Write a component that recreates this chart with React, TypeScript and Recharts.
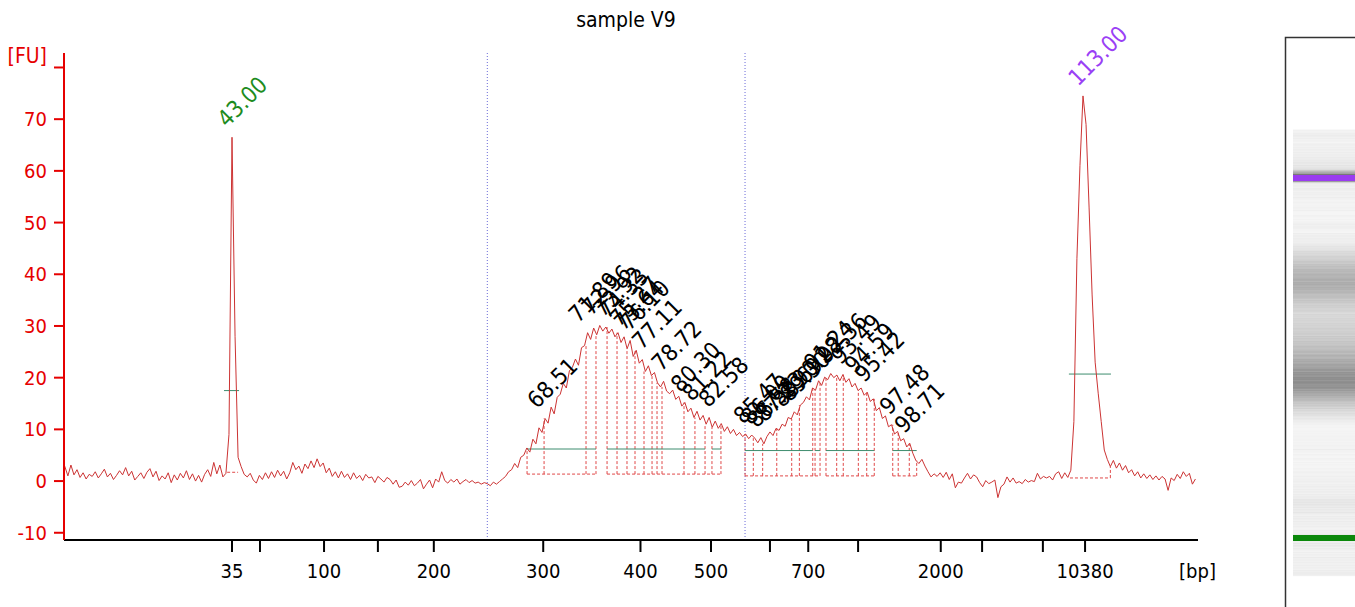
import { ComposedChart, Line, XAxis, YAxis, ReferenceLine, ReferenceDot } from "recharts"

const chartTitle = "sample V9"

// migration time of the first sample [s] and sampling step [s]
const startTime = 29
const stepTime = 0.25

// fluorescence [FU], one row per second (4 samples per row), starting at 29 s
const fuRows: number[][] = [
  [2.1, 2.8, 1.0, 3.1], // 29
  [1.2, 2.2, 0.7, 1.6], // 30
  [0.4, 1.3, 0.9, 1.8],
  [0.6, 1.4, 2.3, 0.8],
  [1.5, 0.3, 1.1, 2.0],
  [1.2, 2.6, 1.0, 1.9],
  [0.2, 0.9, 1.6, 0.5], // 35
  [1.7, 2.4, 0.8, 1.9],
  [0.1, 1.0, 0.4, 1.6],
  [-0.3, 1.2, 0.2, 1.5],
  [0.6, 2.0, 0.3, 1.4],
  [0.0, 1.1, -0.2, 1.3], // 40
  [2.2, 0.9, 3.6, 1.4],
  [3.1, 0.8, 1.5, 9.0],
  [66.5, 28.0, 4.6, 2.8], // 43 lower marker
  [1.3, 0.8, 1.5, 0.2],
  [-0.4, 1.1, 0.3, 1.6], // 45
  [0.5, 1.8, 0.7, 2.1],
  [1.0, 1.9, 0.4, 1.6],
  [3.6, 2.2, 2.9, 1.5],
  [3.3, 2.4, 3.9, 2.6],
  [4.3, 2.8, 3.5, 1.6], // 50
  [2.5, 0.9, 1.8, 0.6],
  [1.9, 0.7, 1.4, 0.3],
  [1.6, 0.5, 1.1, 0.1],
  [1.3, 0.6, 0.8, -0.3],
  [0.9, 0.4, -0.2, 0.7], // 55
  [0.3, -0.6, 0.2, -1.2],
  [-1.0, -0.2, -0.8, 0.1],
  [-0.9, -0.4, 0.3, -1.5],
  [-0.6, 0.2, -1.3, 0.4],
  [-0.2, 1.8, 0.1, -0.4], // 60
  [0.3, -0.2, 0.4, -0.6],
  [-0.1, 0.3, -0.3, 0.1],
  [-0.4, -0.2, -0.6, -0.3],
  [-0.5, -0.9, -0.2, -0.6],
  [-0.1, 0.4, 0.9, 1.8], // 65
  [2.2, 3.4, 2.6, 4.6],
  [5.0, 6.4, 5.6, 8.1],
  [7.2, 10.3, 9.4, 12.1],
  [11.2, 14.3, 13.0, 16.2],
  [16.8, 18.9, 18.0, 21.3], // 70
  [22.0, 23.6, 22.4, 25.8],
  [26.2, 28.7, 27.4, 29.6],
  [28.3, 30.1, 29.0, 29.8],
  [28.6, 29.4, 27.9, 28.7],
  [26.8, 27.9, 25.6, 27.2], // 75
  [24.1, 25.3, 22.8, 23.5],
  [21.2, 22.3, 20.4, 21.0],
  [19.0, 18.2, 19.3, 17.4],
  [16.9, 17.6, 15.8, 16.4],
  [14.5, 15.2, 13.4, 14.1], // 80
  [12.3, 13.5, 11.8, 12.7],
  [11.0, 12.3, 10.4, 11.6],
  [10.2, 11.1, 9.6, 10.5],
  [9.2, 10.0, 8.8, 9.4],
  [8.6, 9.1, 8.2, 8.9], // 85
  [8.3, 7.4, 8.4, 7.2],
  [8.6, 9.5, 8.8, 10.2],
  [9.8, 11.0, 10.6, 12.3],
  [12.0, 13.4, 12.8, 14.7],
  [15.2, 16.3, 15.7, 18.0], // 90
  [17.6, 19.4, 18.5, 20.1],
  [19.6, 20.8, 20.0, 20.5],
  [19.4, 20.6, 19.1, 19.8],
  [18.2, 18.9, 17.5, 18.0],
  [16.6, 17.2, 15.4, 15.9], // 95
  [13.6, 14.2, 12.1, 12.6],
  [10.5, 10.9, 9.1, 9.6],
  [7.8, 8.2, 6.6, 7.3],
  [5.4, 4.0, 3.4, 4.2],
  [2.9, 1.8, 0.8, 1.4], // 100
  [0.9, 1.6, 0.7, 1.7],
  [0.3, 1.4, -1.3, -0.2],
  [-0.4, 0.6, 1.5, 0.4],
  [1.2, 0.8, -0.3, -1.1],
  [0.1, -0.5, -0.2, 0.2], // 105
  [-3.2, -1.1, -0.6, 0.8],
  [-0.2, 0.6, -0.4, -0.1],
  [-0.5, 0.3, -0.2, 0.1],
  [-0.1, 1.5, 0.4, 0.9],
  [0.6, 0.9, 0.2, 1.4], // 110
  [1.8, 0.5, 1.6, 0.7],
  [2.1, 11.5, 43.0, 61.0],
  [74.5, 69.0, 53.0, 36.0], // 113 upper marker
  [23.0, 17.0, 11.5, 6.0],
  [4.2, 2.8, 4.0, 2.5], // 115
  [3.5, 2.1, 3.0, 1.6],
  [2.2, 1.0, 1.8, 0.6],
  [1.4, 0.5, 1.2, 0.3],
  [1.0, 0.2, 0.9, 0.4],
  [-1.8, 0.6, 0.1, 1.3], // 120
  [0.5, 1.8, 0.9, 1.5],
  [-0.6, 0.4],
]

// ladder: migration time [s] -> size label [bp]
const ladderTimes = [43.0, 45.3, 50.57, 55.0, 59.6, 68.6, 76.6, 82.4, 87.25, 90.4, 94.5, 101.3, 104.7, 109.7, 113.17]
const ladderLabels = ["35", "", "100", "", "200", "300", "400", "500", "", "700", "", "2000", "", "", "10380"]

const fuTicks = [-10, 0, 10, 20, 30, 40, 50, 60, 70, 80]

// region-of-interest borders [s]
const regionTimes = [64.0, 85.2]

// peaks called inside the two smears (label = migration time)
const smear1Peaks = [68.51, 71.89, 72.96, 73.92, 74.33, 75.27, 75.64, 76.1, 77.11, 78.72, 80.3, 81.22, 82.58]
const smear2Peaks = [85.47, 86.09, 86.58, 87.23, 88.69, 89.3, 90.28, 91.24, 92.36, 93.49, 94.59, 95.42, 97.48, 98.71]

// peak start/end times and their baselines
const smear1Bounds = [67.27, 68.67, 72.12, 72.94, 73.85, 74.67, 75.49, 76.15, 76.89, 77.55, 77.96, 78.37, 80.18, 81.08, 81.91, 82.48, 83.22]
const smear2Bounds = [85.2, 85.88, 86.65, 87.81, 89.04, 89.67, 90.77, 90.96, 91.37, 91.86, 92.74, 93.28, 94.52, 95.21, 95.83, 97.35, 97.8, 98.71, 99.32]
const smear1Base = 1.35
const smear2Base = 1.0
const smear1BaseSpans = [[67.27, 72.94], [73.85, 83.22]]
const smear2BaseSpans = [[85.2, 91.37], [91.86, 95.83], [97.35, 99.32]]
const smear1Half = 6.2
const smear2Half = 5.9
const smear1HalfSpans = [[67.27, 72.94], [73.85, 80.18], [80.18, 81.91], [82.48, 83.22]]
const smear2HalfSpans = [[85.2, 90.77], [90.96, 91.37], [91.86, 95.83], [97.35, 99.32]]

// markers: apex time, base span, base level, half-height level and span
const markerTimes = [43.0, 113.0]
const markerLabels = ["43.00", "113.00"]
const markerBaseSpans = [[42.6, 43.5], [111.93, 115.25]]
const markerBase = [1.7, 0.6]
const markerHalf = [17.5, 20.7]
const markerHalfSpans = [[42.34, 43.58], [111.84, 115.3]]

const fontFamily = "'DejaVu Sans Condensed', 'Noto Sans', sans-serif"
const axisRed = "#e60000"
const traceRed = "#cc3333"
const dashRed = "#e04848"
const halfGreen = "#3d8c6e"
const markerColors = ["#1e8c1e", "#9a40f5"]

const samples = fuRows.flatMap((row, r) => row.map((fu, k) => ({ t: startTime + r + k * stepTime, fu })))

function fuAt(t: number) {
  const i = Math.round((t - startTime) / stepTime)
  return samples[Math.max(0, Math.min(samples.length - 1, i))].fu
}

function apexNear(t: number) {
  return Math.max(fuAt(t - stepTime), fuAt(t), fuAt(t + stepTime))
}

function slantLabel(text: string, color: string) {
  return (p: any) => {
    const x = p.cx - 5
    const y = p.cy - 9
    return (
      <text x={x} y={y} transform={`rotate(-45 ${x} ${y})`} fontSize={23} fill={color} fontFamily={fontFamily}>
        {text}
      </text>
    )
  }
}

function dashed(key: string, a: { x: number; y: number }, b: { x: number; y: number }, color: string, dash?: string) {
  return (
    <ReferenceLine
      key={key}
      segment={[a, b]}
      stroke={color}
      strokeWidth={1}
      strokeDasharray={dash}
      ifOverflow="visible"
    />
  )
}

// gel lane: migration time -> page y
const gelY = (t: number) => 538 - (t - 43) * (360 / 70)

function Gel() {
  const lane = samples.filter((s) => gelY(s.t) >= 130 && gelY(s.t) <= 576)
  return (
    <g>
      <path d="M1285.5 607 V37.5 H1355" fill="none" stroke="#333" strokeWidth={1.5} />
      {lane.map((s, i) => {
        const g = Math.round(Math.max(70, Math.min(245, 242 - 3.4 * s.fu)))
        return <rect key={i} x={1293} y={gelY(s.t) - 0.85} width={62} height={1.7} fill={`rgb(${g},${g},${g})`} />
      })}
      {markerTimes.map((t, i) => (
        <rect key={"m" + i} x={1293} y={gelY(t) - 3} width={62} height={6} fill={i === 0 ? "#0a870a" : "#9a3cf0"} />
      ))}
    </g>
  )
}

export default function App() {
  const bounds = [
    ...smear1Bounds.map((t) => ({ t, base: smear1Base })),
    ...smear2Bounds.map((t) => ({ t, base: smear2Base })),
  ]
  const baseSpans = [
    ...smear1BaseSpans.map((s) => ({ s, y: smear1Base })),
    ...smear2BaseSpans.map((s) => ({ s, y: smear2Base })),
    ...markerBaseSpans.map((s, i) => ({ s, y: markerBase[i] })),
  ]
  const halfSpans = [
    ...smear1HalfSpans.map((s) => ({ s, y: smear1Half })),
    ...smear2HalfSpans.map((s) => ({ s, y: smear2Half })),
    ...markerHalfSpans.map((s, i) => ({ s, y: markerHalf[i] })),
  ]
  const peaks = [...smear1Peaks, ...smear2Peaks]

  return (
    <div style={{ position: "absolute", left: 0, top: 0, width: 1355, height: 607, background: "#fff" }}>
      <ComposedChart
        width={1240}
        height={607}
        data={samples}
        margin={{ top: 53, right: 42, bottom: 7, left: 4 }}
        style={{ position: "absolute", left: 0, top: 0 }}
      >
        <XAxis
          type="number"
          dataKey="t"
          domain={[29.18, 122.46]}
          allowDataOverflow
          ticks={ladderTimes}
          interval={0}
          tickFormatter={(t: number) => ladderLabels[ladderTimes.indexOf(t)] ?? ""}
          height={60}
          tickSize={12}
          tickMargin={12}
          axisLine={{ stroke: "#000", strokeWidth: 2 }}
          tickLine={{ stroke: "#000", strokeWidth: 2 }}
          tick={{ fill: "#000", fontSize: 20, fontFamily }}
        />
        <YAxis
          type="number"
          domain={[-11.4, 82.8]}
          allowDataOverflow
          ticks={fuTicks}
          interval={0}
          tickFormatter={(v: number) => (v === 80 ? "" : String(v))}
          width={60}
          tickSize={10}
          tickMargin={7}
          axisLine={{ stroke: axisRed, strokeWidth: 2 }}
          tickLine={{ stroke: axisRed, strokeWidth: 2 }}
          tick={{ fill: axisRed, fontSize: 20, fontFamily }}
        />
        {regionTimes.map((t) => (
          <ReferenceLine key={"r" + t} x={t} stroke="#6a6ad8" strokeWidth={1} strokeDasharray="1 2" />
        ))}
        {bounds.map((b, i) =>
          dashed("b" + i, { x: b.t, y: b.base }, { x: b.t, y: fuAt(b.t) }, dashRed, "3 2")
        )}
        {dashed("mb", { x: 115.25, y: 0.6 }, { x: 115.25, y: fuAt(115.25) }, dashRed, "3 2")}
        {baseSpans.map((b, i) => dashed("s" + i, { x: b.s[0], y: b.y }, { x: b.s[1], y: b.y }, dashRed, "3 2"))}
        {halfSpans.map((h, i) => dashed("h" + i, { x: h.s[0], y: h.y }, { x: h.s[1], y: h.y }, halfGreen))}
        <Line
          dataKey="fu"
          type="linear"
          stroke={traceRed}
          strokeWidth={1}
          dot={false}
          activeDot={false}
          isAnimationActive={false}
        />
        {peaks.map((t) => (
          <ReferenceDot
            key={"p" + t}
            x={t}
            y={apexNear(t)}
            r={0}
            shape={slantLabel(t.toFixed(2), "#000")}
          />
        ))}
        {markerTimes.map((t, i) => (
          <ReferenceDot
            key={"mk" + t}
            x={t}
            y={fuAt(t)}
            r={0}
            shape={slantLabel(markerLabels[i], markerColors[i])}
          />
        ))}
      </ComposedChart>
      <svg
        width={1355}
        height={607}
        style={{ position: "absolute", left: 0, top: 0, pointerEvents: "none" }}
      >
        <text x={626} y={27} textAnchor="middle" fontSize={21} fontFamily={fontFamily} fill="#000">
          {chartTitle}
        </text>
        <text x={47} y={63} textAnchor="end" fontSize={21} fontFamily={fontFamily} fill={axisRed}>
          [FU]
        </text>
        <text x={1216} y={578} textAnchor="end" fontSize={20} fontFamily={fontFamily} fill="#000">
          [bp]
        </text>
        <Gel />
      </svg>
    </div>
  )
}
